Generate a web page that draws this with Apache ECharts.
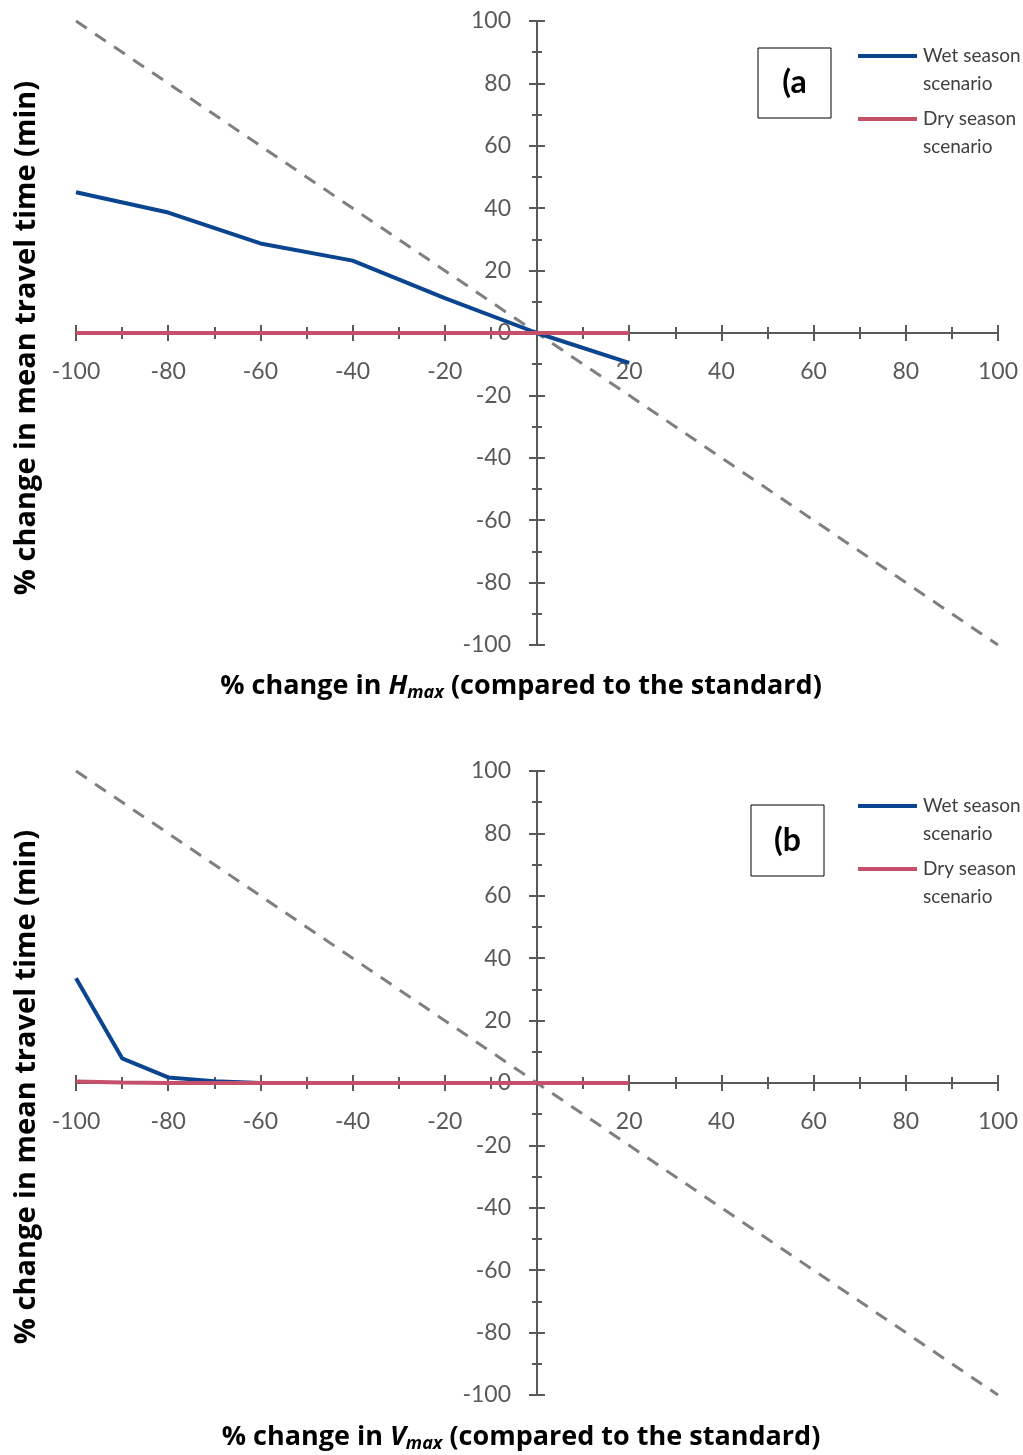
<!DOCTYPE html>
<html>
<head>
<meta charset="utf-8">
<script src="https://cdn.jsdelivr.net/npm/echarts@6/dist/echarts.min.js"></script>
<style>
html,body{margin:0;padding:0;background:#fff;}
#c{width:1023px;height:1455px;}
</style>
</head>
<body>
<div id="c"></div>
<script>
// ---- data ----
const hmaxX   = [-100, -80, -60, -40, -20, 0, 20];
const hmaxWet = [45.1, 38.6, 28.7, 23.2, 11.2, 0, -9.6];
const hmaxDry = [0, 0, 0, 0, 0, 0, 0];

const vmaxX   = [-100, -90, -80, -70, -60, -40, -20, 0, 20];
const vmaxWet = [33.6, 7.9, 1.8, 0.6, 0, 0, 0, 0, 0];
const vmaxDry = [0.5, 0.2, 0, 0, 0, 0, 0, 0, 0];

const refX = [-100, 100];
const refY = [100, -100];

const seriesNames = ['Wet season scenario', 'Dry season scenario'];
const panelLabels = ['(a', '(b'];
const xTitleVars = ['H', 'V'];
const yTitle = '% change in mean travel time (min)';

// ---- styling ----
const FONT = 'Lato';
const TFONT = 'Open Sans';
const AX = '#595959';
const BLUE = '#0b4590';
const RED = '#c4506a';
const GRAY = '#7f7f7f';

const pairs = (xs, ys) => xs.map((x, i) => [x, ys[i]]);

const grids = [
  {left: 76, right: 25, top: 21, height: 624},
  {left: 76, right: 25, top: 771, height: 624}
];
// axis lines sit at the zero of the other axis
const X_OFFSET = -312;   // half of grid height, upward
const Y_OFFSET = -461;   // half of grid width, rightward

function xAx(gi, outside) {
  return {
    type: 'value', gridIndex: gi, min: -100, max: 100, interval: 20, position: 'bottom',
    offset: X_OFFSET,
    axisLine: {show: true, onZero: false, lineStyle: {color: AX, width: 2}},
    axisTick: {show: true, inside: !outside, length: 8, lineStyle: {color: AX, width: 2}},
    minorTick: {show: true, splitNumber: 2, length: 6, lineStyle: {color: AX, width: 2}},
    splitLine: {show: false},
    axisLabel: {show: outside, margin: 27, color: AX, fontFamily: FONT, fontSize: 23,
      formatter: v => (v === 0 ? '' : String(v))}
  };
}
function yAx(gi, outside) {
  return {
    type: 'value', gridIndex: gi, min: -100, max: 100, interval: 20, position: 'left',
    offset: Y_OFFSET,
    axisLine: {show: true, onZero: false, lineStyle: {color: AX, width: 2}},
    axisTick: {show: true, inside: !outside, length: 8, lineStyle: {color: AX, width: 2}},
    minorTick: {show: true, splitNumber: 2, length: 5, lineStyle: {color: AX, width: 2}},
    splitLine: {show: false},
    axisLabel: {show: outside, margin: 26, color: AX, fontFamily: FONT, fontSize: 23}
  };
}

function panelSeries(gi, xs, wet, dry) {
  const xi = gi * 2, yi = gi * 2;
  return [
    {type: 'line', name: 'ref' + gi, xAxisIndex: xi, yAxisIndex: yi, data: pairs(refX, refY),
     symbol: 'none', silent: true, lineStyle: {color: GRAY, width: 3, type: [13, 10]}, z: 2},
    {type: 'line', name: seriesNames[0], xAxisIndex: xi, yAxisIndex: yi, data: pairs(xs, wet),
     symbol: 'none', lineStyle: {color: BLUE, width: 4}, itemStyle: {color: BLUE}, z: 3},
    {type: 'line', name: seriesNames[1], xAxisIndex: xi, yAxisIndex: yi, data: pairs(xs, dry),
     symbol: 'none', lineStyle: {color: RED, width: 4}, itemStyle: {color: RED}, z: 4}
  ];
}

function legendGraphics(dy) {
  const items = [];
  const rows = [
    {c: BLUE, l1: 'Wet season', l2: 'scenario', y: 56},
    {c: RED, l1: 'Dry season', l2: 'scenario', y: 119}
  ];
  rows.forEach(r => {
    items.push({type: 'line', shape: {x1: 858, y1: r.y + dy, x2: 917, y2: r.y + dy},
      style: {stroke: r.c, lineWidth: 4}});
    items.push({type: 'text', x: 923, y: r.y + dy, style: {text: r.l1, font: '19px ' + FONT,
      fill: '#404040', textVerticalAlign: 'middle'}});
    items.push({type: 'text', x: 923, y: r.y + 28 + dy, style: {text: r.l2, font: '19px ' + FONT,
      fill: '#404040', textVerticalAlign: 'middle'}});
  });
  return items;
}

function boxGraphics(x, y, w, h, label) {
  return [
    {type: 'rect', shape: {x: x, y: y, width: w, height: h}, style: {fill: '#fff', stroke: '#000', lineWidth: 1}},
    {type: 'text', x: x + w / 2, y: y + h / 2, style: {text: label, font: 'bold 32px ' + FONT,
      fill: '#000', textAlign: 'center', textVerticalAlign: 'middle'}}
  ];
}

function xTitle(cy, v) {
  return {type: 'text', x: 521, y: cy, style: {
    text: '{n|% change in }{i|' + v + '}{s|max}{n| (compared to the standard)}',
    textAlign: 'center', textVerticalAlign: 'middle',
    rich: {
      n: {font: 'bold 27px ' + TFONT, fill: '#000'},
      i: {font: 'italic bold 27px ' + TFONT, fill: '#000'},
      s: {font: 'italic bold 18px ' + TFONT, fill: '#000', padding: [14, 0, 0, 0]}
    }
  }};
}
function yTitleG(cy) {
  return {type: 'text', x: 27, y: cy, rotation: Math.PI / 2, style: {
    text: yTitle, font: 'bold 29px ' + TFONT, fill: '#000', textAlign: 'center', textVerticalAlign: 'middle'}};
}

const chart = echarts.init(document.getElementById('c'));
chart.setOption({
  backgroundColor: '#fff',
  animation: false,
  grid: grids,
  xAxis: [xAx(0, true), xAx(0, false), xAx(1, true), xAx(1, false)],
  yAxis: [yAx(0, true), yAx(0, false), yAx(1, true), yAx(1, false)],
  series: [].concat(panelSeries(0, hmaxX, hmaxWet, hmaxDry), panelSeries(1, vmaxX, vmaxWet, vmaxDry)),
  graphic: [].concat(
    legendGraphics(0), legendGraphics(750),
    boxGraphics(758, 48, 73, 70, panelLabels[0]),
    boxGraphics(751, 805, 73, 71, panelLabels[1]),
    [xTitle(686, xTitleVars[0]), xTitle(1437, xTitleVars[1]), yTitleG(338), yTitleG(1087)]
  )
});
</script>
</body>
</html>
